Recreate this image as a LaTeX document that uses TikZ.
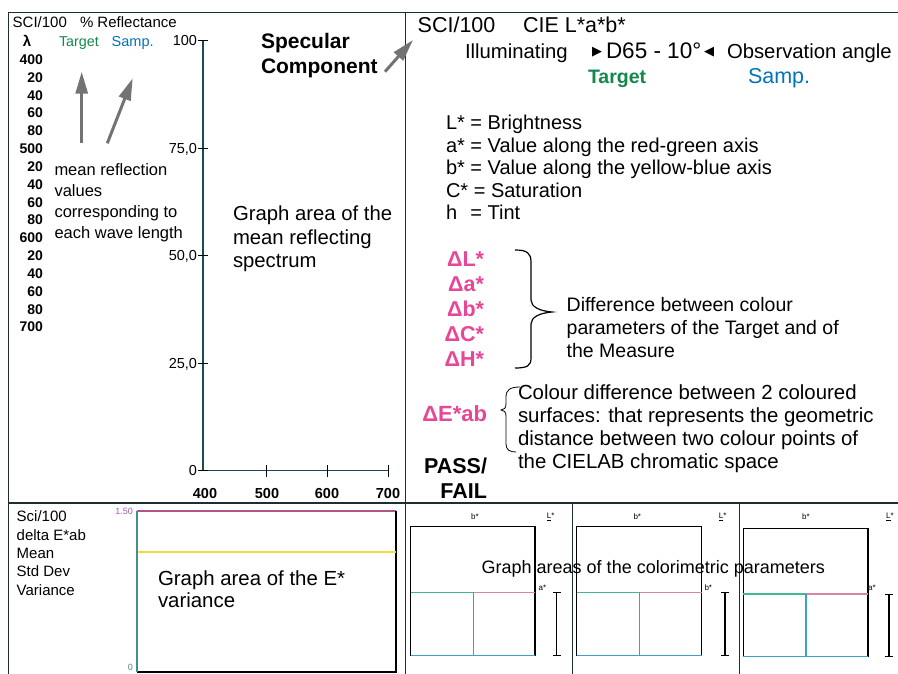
\documentclass[tikz,border=0pt]{standalone}
\usepackage{fontspec}
\setmainfont{Liberation Sans}
\newfontfamily\symfnt{DejaVu Sans}
\usetikzlibrary{arrows.meta}
\definecolor{tgreen}{RGB}{20,135,75}
\definecolor{sblue}{RGB}{0,115,185}
\definecolor{pinkc}{RGB}{232,70,150}
\definecolor{arrowgray}{RGB}{115,115,115}
\definecolor{framec}{RGB}{30,45,50}
\definecolor{axisc}{RGB}{25,75,85}
\definecolor{tealc}{RGB}{70,140,150}
\definecolor{magc}{RGB}{175,85,135}
\definecolor{yelc}{RGB}{238,224,60}
\definecolor{grnl}{RGB}{60,185,150}
\definecolor{pinkl}{RGB}{215,135,155}
\definecolor{bluel}{RGB}{60,160,205}
\definecolor{purplet}{RGB}{160,90,190}
\newcommand\myfs[2]{\fontsize{#1}{#2}\selectfont}
\tikzset{
  txt/.style={anchor=base west, inner sep=0pt, outer sep=0pt},
  txtr/.style={anchor=base east, inner sep=0pt, outer sep=0pt},
  txtc/.style={anchor=base, inner sep=0pt, outer sep=0pt},
  frameline/.style={draw=framec, line width=1.6pt},
  garrow/.style={draw=arrowgray, line width=3pt, -{Triangle[length=22pt,width=12pt]}},
  tickline/.style={draw=black, line width=1pt},
  tiny/.style={inner sep=0pt, font=\myfs{8}{8}},
  bracep/.style={draw=black, line width=1.2pt},
}
\begin{document}
\begin{tikzpicture}[x=1pt,y=-1pt]
\useasboundingbox (0,0) rectangle (898,674);
\fill[white] (0,0) rectangle (898,674);

% ---------- frame ----------
\coordinate (tl) at (8.5,12.5);
\coordinate (tr) at (898,12.5);
\coordinate (bl) at (8.5,674);
\coordinate (dt) at (405.5,12.5);
\coordinate (db) at (405.5,674);
\coordinate (hl) at (8.5,503);
\coordinate (hr) at (898,503);
\draw[frameline] (bl) -- (tl) -- (tr);
\draw[frameline] (dt) -- (db);
\draw[frameline] (hl) -- (hr);
\coordinate (d1t) at (572.7,503); \coordinate (d1b) at (572.7,674);
\coordinate (d2t) at (739.3,503); \coordinate (d2b) at (739.3,674);
\draw[framec, line width=1.3pt] (d1t) -- (d1b);
\draw[framec, line width=1.3pt] (d2t) -- (d2b);

% ---------- spectrum graph ----------
\coordinate (ytop) at (203,40.7);
\coordinate (orig) at (203,470.7);
\coordinate (xend) at (388.3,470.7);
\draw[axisc, line width=1.3pt] (ytop) -- (orig) -- (xend);
\foreach \y/\t [count=\i] in {40.7/100,148.2/{75,0},255.7/{50,0},363.2/{25,0},470.7/0}{
  \draw[tickline] (198,\y) -- (208,\y);
  \node[txtr, font=\myfs{14.5}{14.5}] (yl\i) at (197,\y+5) {\t};
}
\foreach \x in {266.7,327.7,388.3}{
  \draw[tickline] (\x,465) -- (\x,477);
}
\foreach \x/\t [count=\i] in {205/400,267/500,327/600,388/700}{
  \node[txtc, font=\myfs{14.5}{14.5}\bfseries] (xl\i) at (\x,498) {\t};
}

% ---------- left column ----------
\node[txt, font=\myfs{15}{15}] (sci) at (12.7,28) {SCI/100};
\node[txt, font=\myfs{15}{15}] (refl) at (80,28) {\% Reflectance};
\node[txt, font=\myfs{15}{15}\bfseries] (lam) at (23,47) {λ};
\node[txt, font=\myfs{14.3}{14.3}, text=tgreen] (tgl) at (59,47) {Target};
\node[txt, font=\myfs{14.5}{14.5}, text=sblue] (sml) at (111.7,47) {Samp.};
\foreach \t [count=\i from 0] in {400,20,40,60,80,500,20,40,60,80,600,20,40,60,80,700}{
  \node[txtr, font=\myfs{14}{14}\bfseries] (wl\i) at (43,64.5+17.83*\i) {\t};
}
\coordinate (a1s) at (81.7,143.3); \coordinate (a1e) at (81.7,71.7);
\coordinate (a2s) at (107.3,143.3); \coordinate (a2e) at (132.7,78.3);
\draw[garrow] (a1s) -- (a1e);
\draw[garrow] (a2s) -- (a2e);
\foreach \t [count=\i from 0] in {mean reflection,values,corresponding to,each wave length}{
  \node[txt, font=\myfs{16.5}{16.5}] (mr\i) at (54.5,176+20.7*\i) {\t};
}
\foreach \t [count=\i from 0] in {Graph area of the,mean reflecting,spectrum}{
  \node[txt, font=\myfs{20.3}{20.3}] (ga\i) at (233,221+23*\i) {\t};
}
\node[txt, font=\myfs{21}{21}\bfseries] (spec1) at (261,48.3) {Specular};
\node[txt, font=\myfs{21}{21}\bfseries] (spec2) at (261,73.5) {Component};
\coordinate (sas) at (385,71.7); \coordinate (sae) at (413,40);
\draw[garrow] (sas) -- (sae);

% ---------- right top ----------
\node[txt, font=\myfs{21.5}{21.5}] (sci2) at (417.7,33) {SCI/100};
\node[txt, font=\myfs{21.5}{21.5}] (cie) at (523,33) {CIE L*a*b*};
\node[txt, font=\myfs{20.3}{20.3}] (illu) at (465,59) {Illuminating};
\node[txt, font=\myfs{13}{13}\symfnt] (trr) at (592,56) {▶};
\node[txt, font=\myfs{22.5}{22.5}] (d65) at (606,59) {D65 - 10°};
\node[txt, font=\myfs{13}{13}\symfnt] (trl) at (704,56) {◀};
\node[txt, font=\myfs{20.3}{20.3}] (obs) at (727,59) {Observation angle};
\node[txt, font=\myfs{19.5}{19.5}\bfseries, text=tgreen] (tgr) at (588,84) {Target};
\node[txt, font=\myfs{21.5}{21.5}, text=sblue] (smr) at (748,84) {Samp.};

\foreach \t [count=\i from 0] in {L* = Brightness,a* = Value along the red-green axis,b* = Value along the yellow-blue axis,C* = Saturation,\makebox[0.945em][l]{h} = Tint}{
  \node[txt, font=\myfs{20}{20}] (lab\i) at (446,130+22.5*\i) {\t};
}

\foreach \t [count=\i from 0] in {ΔL*,Δa*,Δb*,ΔC*,ΔH*}{
  \node[txtr, font=\myfs{21.5}{21.5}\bfseries, text=pinkc] (dl\i) at (484,266.7+25*\i) {\t};
}
\coordinate (b1t) at (515,250);
\coordinate (b1m) at (552,312);
\coordinate (b1b) at (515,368);
\draw[bracep] (b1t) .. controls (527,250) and (531,253) .. (531,262) -- (531,300)
  .. controls (531,307) and (540,311) .. (b1m)
  .. controls (540,313) and (531,317) .. (531,324) -- (531,358)
  .. controls (531,366) and (527,368) .. (b1b);
\foreach \t [count=\i from 0] in {Difference between colour,parameters of the Target and of,the Measure}{
  \node[txt, font=\myfs{19.5}{19.5}] (dif\i) at (566.7,311.7+23*\i) {\t};
}

\node[txtr, font=\myfs{22}{22}\bfseries, text=pinkc] (de) at (487,421.7) {ΔE*ab};
\coordinate (b2t) at (520,387);
\coordinate (b2m) at (501,410);
\coordinate (b2b) at (516,452);
\draw[black, line width=0.8pt] (b2t) .. controls (510,387) and (506,390) .. (506,397) -- (506,404)
  .. controls (506,408) and (504,410) .. (b2m)
  .. controls (504,410) and (506,412) .. (506,416) -- (506,444)
  .. controls (506,450) and (510,452) .. (b2b);
\foreach \t [count=\i from 0] in {Colour difference between 2 coloured,surfaces: that represents the geometric,distance between two colour points of,the CIELAB chromatic space}{
  \node[txt, font=\myfs{20.4}{20.4}] (cd\i) at (518,399.7+22.77*\i) {\t};
}
\node[txtr, font=\myfs{21.5}{21.5}\bfseries] (pass) at (487,473.3) {PASS/};
\node[txtr, font=\myfs{21.5}{21.5}\bfseries] (fail) at (487,498) {FAIL};

% ---------- bottom left ----------
\foreach \t [count=\i from 0] in {Sci/100,delta E*ab,Mean,Std Dev,Variance}{
  \node[txt, font=\myfs{15}{15}] (st\i) at (16.7,521.7+18.33*\i) {\t};
}
\coordinate (vb1) at (136.7,510.7);
\coordinate (vb2) at (396,510.7);
\coordinate (vb3) at (396,672);
\coordinate (vb4) at (136.7,672);
\draw[magc, line width=1.6pt] (vb1) -- (vb2);
\draw[black, line width=1.3pt] (vb2) -- (vb3) -- (vb4);
\draw[tealc, line width=1.6pt] (vb4) -- (vb1);
\coordinate (yl1) at (137.5,551.7); \coordinate (yl2) at (395.5,551.7);
\draw[yelc, line width=1.8pt] (yl1) -- (yl2);
\node[anchor=east, inner sep=0pt, font=\myfs{9}{9}, text=purplet] (v150) at (133,511) {1.50};
\node[anchor=east, inner sep=0pt, font=\myfs{9}{9}, text=tealc] (v0) at (133,667.5) {0};
\node[txt, font=\myfs{20.4}{20.4}] (ge1) at (158,585) {Graph area of the E*};
\node[txt, font=\myfs{20.4}{20.4}] (ge2) at (158,607) {variance};

% ---------- bottom right panels ----------
\foreach \L/\R/\V/\T/\B/\H/\bx/\Lx/\s/\sx/\bar/\n in {
  410.7/535/473.3/526.7/655.7/592.3/475/550.7/a/542.5/556.7/p1,
  576.7/701.7/639.3/526.7/655.7/592.3/637.3/722.7/b/708.3/725/p2,
  743.3/868/806/528.3/656.7/594/806/890/a/872/889/p3}{
  \draw[black, line width=1.2pt] (\L,\B) -- (\L,\T) -- (\R,\T) -- (\R,\B);
  \draw[bluel, line width=1.5pt] (\L,\B) -- (\R,\B);
  \draw[grnl, line width=1.5pt] (\L,\H) -- (\V,\H);
  \draw[pinkl, line width=1.5pt] (\V,\H) -- (\R,\H);
  \draw[bluel, line width=1.5pt] (\V,\H) -- (\V,\B);
  \draw[black, line width=1.4pt] (\bar,\H+0.5) -- (\bar,\B);
  \draw[black, line width=1.2pt] (\bar-4,\H+0.5) -- (\bar+4,\H+0.5);
  \draw[black, line width=1.2pt] (\bar-4,\B) -- (\bar+4,\B);
  \node[tiny] (\n b) at (\bx,517) {b*};
  \node[tiny] (\n L) at (\Lx,517) {\underline{L}*};
  \node[tiny] (\n s) at (\sx,588) {\s*};
}
\node[txt, font=\myfs{18}{18}] (gac) at (481.7,573.3) {Graph areas of the colorimetric parameters};
\end{tikzpicture}
\end{document}
